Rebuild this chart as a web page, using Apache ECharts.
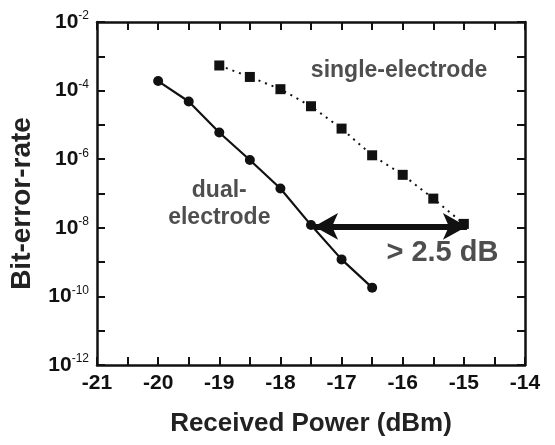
<!DOCTYPE html>
<html>
<head>
<meta charset="utf-8">
<script src="https://cdn.jsdelivr.net/npm/echarts@6/dist/echarts.min.js"></script>
<style>
  html, body { margin: 0; padding: 0; background: #fff; }
  #chart { width: 555px; height: 445px; }
</style>
</head>
<body>
<div id="chart"></div>
<script>
// donnees
const dualPower = [-20, -19.5, -19, -18.5, -18, -17.5, -17, -16.5];
const dualBER = [1.9e-4, 4.8e-5, 6.0e-6, 9.5e-7, 1.4e-7, 1.2e-8, 1.2e-9, 1.8e-10];

const singlePower = [-19, -18.5, -18, -17.5, -17, -16.5, -16, -15.5, -15];
const singleBER = [5.4e-4, 2.5e-4, 1.1e-4, 3.5e-5, 7.8e-6, 1.3e-6, 3.5e-7, 7.1e-8, 1.3e-8];

const arrowStart = [-17.45, 1.1e-8];
const arrowEnd = [-14.95, 1.1e-8];

const notes = [
    { pos: [-16.06, 3.8e-4], text: 'single-electrode', size: 23 },
    { pos: [-19.0, 5e-8], text: 'dual-\nelectrode', size: 23 },
    { pos: [-15.35, 1.8e-9], text: '> 2.5 dB', size: 29 }
];

const FONT = '"Liberation Sans", Arial, sans-serif';
const INK = '#111';

var chartDom = document.getElementById('chart');
var myChart = echarts.init(chartDom);

function zip(xs, ys) {
    return xs.map((x, i) => [x, ys[i]]);
}

// etiquettes 10^n
function powLabel(v) {
    const e = Math.round(Math.log10(v));
    if (e % 2 !== 0) return '';
    return '{b|10}{s|' + e + '}';
}

var tickStyle = { show: true, inside: true, length: 8, lineStyle: { color: INK, width: 2 } };
var lineStyle = { color: INK, width: 2.5 };

var option = {
    backgroundColor: '#fff',
    animation: false,
    grid: { left: 95, right: 30, top: 22, bottom: 80, containLabel: false },
    xAxis: [
        {
            type: 'value', min: -21, max: -14, interval: 1,
            name: 'Received Power (dBm)', nameLocation: 'middle', nameGap: 46,
            nameTextStyle: { fontFamily: FONT, fontWeight: 'bold', fontSize: 26, color: '#222' },
            axisLine: { show: true, onZero: false, lineStyle: lineStyle },
            axisTick: tickStyle,
            minorTick: { show: true, splitNumber: 2, length: 8, lineStyle: { color: INK, width: 2 } },
            splitLine: { show: false },
            axisLabel: { fontFamily: FONT, fontWeight: 'bold', fontSize: 21, color: INK, margin: 8 }
        },
        {
            type: 'value', position: 'top', min: -21, max: -14, interval: 1,
            axisLine: { show: true, onZero: false, lineStyle: lineStyle },
            axisTick: tickStyle,
            minorTick: { show: true, splitNumber: 2, length: 8, lineStyle: { color: INK, width: 2 } },
            splitLine: { show: false },
            axisLabel: { show: false }
        }
    ],
    yAxis: [
        {
            type: 'log', logBase: 10, min: 1e-12, max: 1e-2, interval: 1,
            name: 'Bit-error-rate', nameLocation: 'middle', nameGap: 61,
            nameTextStyle: { fontFamily: FONT, fontWeight: 'bold', fontSize: 28, color: '#222', padding: [0, 20, 0, 0] },
            axisLine: { show: true, onZero: false, lineStyle: lineStyle },
            axisTick: tickStyle,
            splitLine: { show: false },
            axisLabel: {
                formatter: powLabel, margin: 8,
                rich: {
                    b: { fontFamily: FONT, fontWeight: 'bold', fontSize: 21, color: INK },
                    s: { fontFamily: FONT, fontSize: 12, color: INK, verticalAlign: 'top', padding: [0, 0, 12, 0] }
                }
            }
        },
        {
            type: 'log', logBase: 10, position: 'right', min: 1e-12, max: 1e-2, interval: 1,
            axisLine: { show: true, onZero: false, lineStyle: lineStyle },
            axisTick: tickStyle,
            splitLine: { show: false },
            axisLabel: { show: false }
        }
    ],
    series: [
        {
            name: 'dual-electrode',
            type: 'line',
            data: zip(dualPower, dualBER),
            symbol: 'circle', symbolSize: 10,
            itemStyle: { color: INK },
            lineStyle: { color: INK, width: 2.2 }
        },
        {
            name: 'single-electrode',
            type: 'line',
            data: zip(singlePower, singleBER),
            symbol: 'rect', symbolSize: 10,
            itemStyle: { color: INK },
            lineStyle: { color: INK, width: 2, type: [2, 5] },
            markLine: {
                silent: true,
                symbol: ['arrow', 'arrow'],
                symbolSize: [20, 24],
                label: { show: false },
                lineStyle: { color: INK, width: 6, type: 'solid' },
                data: [[{ coord: arrowStart }, { coord: arrowEnd }]]
            }
        },
        {
            name: 'notes',
            type: 'scatter',
            symbolSize: 0,
            data: notes.map(n => ({
                value: n.pos,
                label: {
                    show: true, position: 'inside', formatter: n.text,
                    fontFamily: FONT, fontWeight: 'bold', fontSize: n.size,
                    color: '#222', lineHeight: 27, align: 'center'
                }
            }))
        }
    ]
};

myChart.setOption(option);
window.addEventListener('resize', () => myChart.resize());
</script>
</body>
</html>
